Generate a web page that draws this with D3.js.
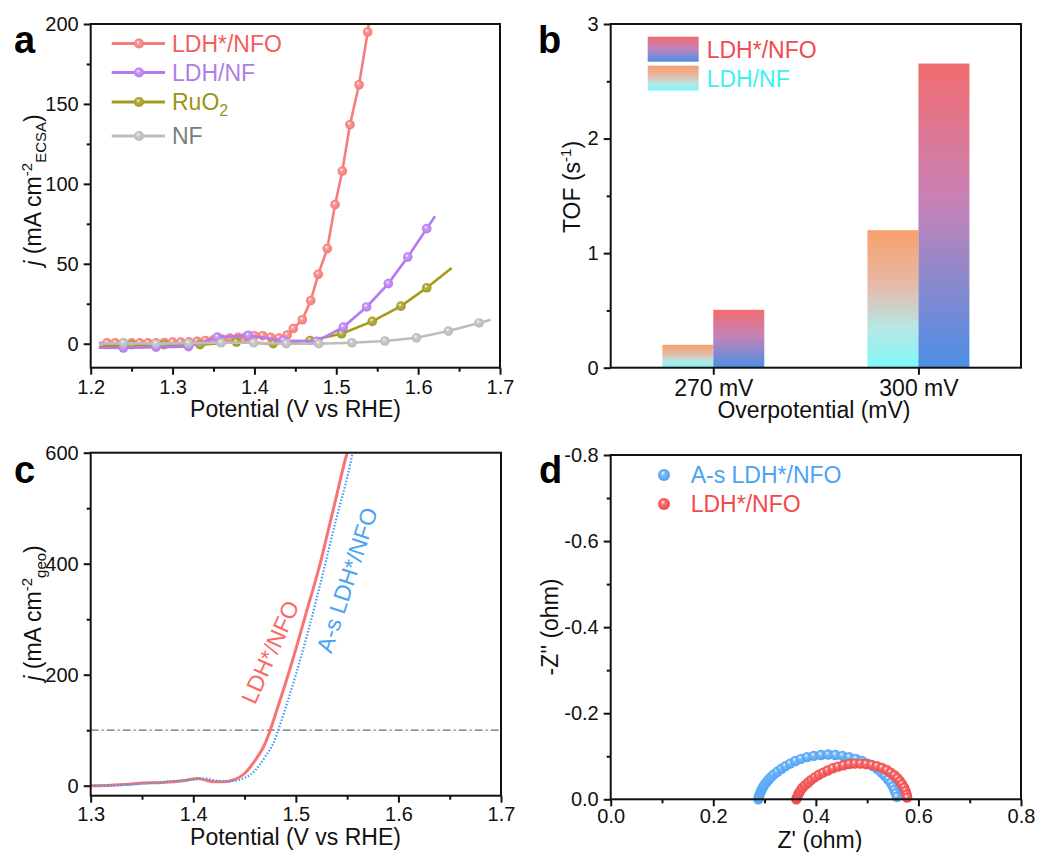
<!DOCTYPE html>
<html>
<head>
<meta charset="utf-8">
<script src="https://cdn.jsdelivr.net/npm/d3@7"></script>
<style>
  body { margin: 0; background: #fff; }
  svg { font-family: "Liberation Sans", Arial, sans-serif; }
</style>
</head>
<body>
<svg id="fig" width="1038" height="852"></svg>
<script>
// ---- panel a : LSV normalised by ECSA ----
const ldhNfoV = [1.21,1.22,1.23,1.24,1.25,1.26,1.27,1.28,1.29,1.30,1.31,1.32,1.33,1.34,1.35,1.36,1.37,1.38,1.39,1.40,1.41,1.42,1.43,1.44,1.4475,1.4585,1.4688,1.478,1.489,1.4985,1.5074,1.5167,1.5278,1.5384,1.546];
const ldhNfoJ = [0.5,0.5,0.5,0.5,0.5,0.5,0.5,0.5,0.8,1,1,1.2,1.5,2,2.5,3,3.5,4,4.5,5,5,4,3.5,5.5,9.5,15,27,43.4,59.5,87,108,137,162,195,225];
const ldhNfV = [1.21,1.2399,1.2798,1.3195,1.3547,1.3925,1.4353,1.476,1.5086,1.537,1.5636,1.5873,1.6105,1.6206];
const ldhNfJ = [-2.5,-2.7,-2.1,-1.8,4.1,5.2,2,1.5,10.4,23,37.6,54.2,72,79.7];
const ruo2V = [1.21,1.25,1.2897,1.3335,1.378,1.423,1.468,1.5065,1.544,1.579,1.6105,1.641];
const ruo2J = [-2,-0.6,-0.6,-0.6,1,0,2,6.2,14,23.5,35,47.4];
const nfV = [1.21,1.24,1.2797,1.3195,1.3592,1.399,1.4388,1.4787,1.519,1.5595,1.598,1.637,1.6744,1.6886];
const nfJ = [0,0.4,0,0.4,0.6,0.6,0,0,0.6,1.7,3.7,7.9,13,15];

// ---- panel b : TOF ----
const tofCats = ["270 mV", "300 mV"];
const tofSeries = ["LDH/NF", "LDH*/NFO"];
const tofLdhNf = [0.2, 1.2];
const tofLdhNfo = [0.505, 2.655];

// ---- panel c : LSV geometric ----
const cRedV = [1.30,1.32,1.34,1.35,1.37,1.39,1.40,1.405,1.41,1.42,1.43,1.44,1.45,1.46,1.47,1.475,1.48,1.49,1.50,1.51,1.52,1.5237,1.53,1.54,1.55,1.552];
const cRedJ = [0,1,3,5,6,9,12,13,11,7,7,11,22,45,76,100,128,185,246,311,375,400,448,525,600,612];
const cBlueV = [1.30,1.34,1.36,1.38,1.40,1.41,1.415,1.42,1.43,1.44,1.45,1.46,1.47,1.48,1.4828,1.49,1.50,1.51,1.52,1.5287,1.53,1.54,1.55,1.556];
const cBlueJ = [0,2,5,8,11,13,12,10,8,9,14,27,52,85,100,140,200,265,335,400,410,485,555,605];

// ---- panel d : Nyquist ----
const asZre = [0.288,0.289,0.290,0.292,0.294,0.297,0.300,0.304,0.308,0.313,0.318,0.325,0.333,0.341,0.350,0.360,0.371,0.383,0.396,0.410,0.424,0.438,0.452,0.465,0.478,0.490,0.501,0.511,0.520,0.528,0.535,0.541,0.546,0.550,0.553,0.556,0.558];
const asZim = [0.000,0.005,0.010,0.016,0.022,0.028,0.034,0.040,0.046,0.052,0.058,0.064,0.071,0.077,0.083,0.089,0.094,0.098,0.101,0.103,0.104,0.103,0.101,0.098,0.094,0.089,0.083,0.077,0.070,0.062,0.054,0.046,0.038,0.030,0.022,0.014,0.006];
const ldZre = [0.362,0.363,0.365,0.367,0.370,0.374,0.379,0.385,0.391,0.398,0.406,0.414,0.423,0.433,0.443,0.454,0.465,0.476,0.487,0.498,0.509,0.519,0.529,0.538,0.546,0.553,0.559,0.564,0.568,0.572,0.575,0.577,0.578];
const ldZim = [0.000,0.004,0.009,0.014,0.020,0.027,0.033,0.039,0.045,0.051,0.057,0.062,0.067,0.072,0.076,0.079,0.082,0.083,0.083,0.082,0.080,0.077,0.073,0.068,0.062,0.056,0.049,0.042,0.035,0.027,0.019,0.011,0.004];

const svg = d3.select("#fig");
const defs = svg.append("defs");

// shiny ball markers
function ball(id, col) {
  const g = defs.append("radialGradient").attr("id", id)
    .attr("cx", "50%").attr("cy", "50%").attr("r", "50%").attr("fx", "38%").attr("fy", "32%");
  g.append("stop").attr("offset", "0%").attr("stop-color", "#fff");
  g.append("stop").attr("offset", "35%").attr("stop-color", d3.interpolateRgb(col, "#fff")(0.25));
  g.append("stop").attr("offset", "100%").attr("stop-color", col);
}
ball("bRed", "#f47878");
ball("bPur", "#b37af0");
ball("bOli", "#9f981a");
ball("bGry", "#b9b9b9");
ball("bBlueD", "#4ea2f7");
ball("bRedD", "#f34646");

function vgrad(id, stops) {
  const g = defs.append("linearGradient").attr("id", id)
    .attr("x1", 0).attr("y1", 0).attr("x2", 0).attr("y2", 1);
  stops.forEach(s => g.append("stop").attr("offset", s[0]).attr("stop-color", s[1]));
}
vgrad("gNfo", [["0%", "#f26c70"], ["45%", "#c782b6"], ["100%", "#4b8fe6"]]);
vgrad("gNf", [["0%", "#f8a06c"], ["40%", "#e6baa8"], ["70%", "#b8e6e4"], ["100%", "#7ffafa"]]);

// axes helper: box + outward ticks on bottom and left
function axes(g, x, y, o) {
  const x0 = x.range()[0], x1 = x.range()[1];
  const yb = y.range()[0], yt = y.range()[1];
  g.append("g").attr("class", "xax").attr("transform", `translate(0,${yb})`)
    .call(d3.axisBottom(x).tickValues(o.xt).tickFormat(o.xf).tickSize(7).tickPadding(o.xp || 5));
  if (o.xm) g.append("g").attr("transform", `translate(0,${yb})`)
    .call(d3.axisBottom(x).tickValues(o.xm).tickFormat("").tickSize(4));
  g.append("g").attr("transform", `translate(${x0},0)`)
    .call(d3.axisLeft(y).tickValues(o.yt).tickFormat(o.yf).tickSize(7).tickPadding(5));
  if (o.ym) g.append("g").attr("transform", `translate(${x0},0)`)
    .call(d3.axisLeft(y).tickValues(o.ym).tickFormat("").tickSize(4));
  g.selectAll(".domain").remove();
  g.selectAll(".tick line").attr("stroke", "#111").attr("stroke-width", 2);
  g.selectAll(".tick text").attr("fill", "#111").style("font-size", "20px");
  g.selectAll("g").attr("font-family", null).attr("font-size", null);
  g.append("rect").attr("x", x0).attr("y", yt).attr("width", x1 - x0).attr("height", yb - yt)
    .attr("fill", "none").attr("stroke", "#111").attr("stroke-width", 2);
}

function clip(id, x, y) {
  defs.append("clipPath").attr("id", id).append("rect")
    .attr("x", x.range()[0]).attr("y", y.range()[1])
    .attr("width", x.range()[1] - x.range()[0]).attr("height", y.range()[0] - y.range()[1]);
}

function panelLetter(t, x, y) {
  svg.append("text").attr("x", x).attr("y", y).text(t)
    .style("font-size", "38px").style("font-weight", "bold").attr("fill", "#000");
}

function xTitle(t, x, y) {
  svg.append("text").attr("x", x).attr("y", y).attr("text-anchor", "middle")
    .style("font-size", "23px").attr("fill", "#111").text(t);
}

// ================= panel a =================
const xa = d3.scaleLinear().domain([1.2, 1.7]).range([90.7, 500]);
const ya = d3.scaleLinear().domain([-15, 200]).range([367.7, 24]);
clip("clipA", xa, ya);
const ga = svg.append("g");
const aSeries = [
  { name: "LDH*/NFO", v: ldhNfoV, j: ldhNfoJ, col: "#f87c7c", ball: "bRed" },
  { name: "RuO2", v: ruo2V, j: ruo2J, col: "#a39a1c", ball: "bOli" },
  { name: "LDH/NF", v: ldhNfV, j: ldhNfJ, col: "#b57af2", ball: "bPur" },
  { name: "NF", v: nfV, j: nfJ, col: "#bdbdbd", ball: "bGry" }
];
const lineA = d3.line().x(d => xa(d[0])).y(d => ya(d[1]));
const plotA = ga.append("g").attr("clip-path", "url(#clipA)");
aSeries.forEach(s => {
  const pts = s.v.map((v, i) => [v, s.j[i]]);
  plotA.append("path").datum(pts).attr("d", lineA)
    .attr("fill", "none").attr("stroke", s.col).attr("stroke-width", 2.6);
  plotA.selectAll(null).data(pts.slice(1, -1)).enter().append("circle")
    .attr("cx", d => xa(d[0])).attr("cy", d => ya(d[1])).attr("r", 4.8)
    .attr("fill", `url(#${s.ball})`);
});
axes(ga, xa, ya, {
  xt: d3.range(1.2, 1.71, 0.1), xf: d3.format(".1f"), xm: d3.range(1.25, 1.7, 0.1),
  yt: [0, 50, 100, 150, 200], yf: d3.format("d"), ym: [25, 75, 125, 175]
});
// legend a
const legA = [
  { name: "LDH*/NFO", col: "#f87c7c", ball: "bRed", txt: "#f25e5e" },
  { name: "LDH/NF", col: "#b57af2", ball: "bPur", txt: "#b07ce6" },
  { name: "RuO", sub: "2", col: "#a39a1c", ball: "bOli", txt: "#9c9414" },
  { name: "NF", col: "#bdbdbd", ball: "bGry", txt: "#7d7d7d" }
];
const legAy = [43.5, 72.5, 102, 136];
legA.forEach((l, i) => {
  const y = legAy[i];
  ga.append("line").attr("x1", 111.7).attr("x2", 165).attr("y1", y).attr("y2", y)
    .attr("stroke", l.col).attr("stroke-width", 3);
  ga.append("circle").attr("cx", 139).attr("cy", y).attr("r", 5).attr("fill", `url(#${l.ball})`);
  const t = ga.append("text").attr("x", 172).attr("y", y + 8.3).style("font-size", "23px").attr("fill", l.txt);
  t.append("tspan").text(l.name);
  if (l.sub) t.append("tspan").attr("dy", 6).style("font-size", "16px").text(l.sub);
});
panelLetter("a", 14, 53);
xTitle("Potential (V vs RHE)", 295.5, 417);
const yta = svg.append("text").attr("transform", "translate(41,190) rotate(-90)")
  .attr("text-anchor", "middle").style("font-size", "23px").attr("fill", "#111");
yta.append("tspan").style("font-style", "italic").text("j");
yta.append("tspan").text(" (mA cm");
yta.append("tspan").attr("dy", -9).style("font-size", "15px").text("-2");
yta.append("tspan").attr("dy", 14).style("font-size", "15px").text("ECSA");
yta.append("tspan").attr("dy", -5).text(")");

// ================= panel b =================
const xb = d3.scalePoint().domain(tofCats).range([610.7, 1021]).padding(0.5);
const yb = d3.scaleLinear().domain([0, 3]).range([367.7, 24]);
const xInner = d3.scaleBand().domain(tofSeries).range([-51, 51]);
const gb = svg.append("g");
const tofVals = { "LDH/NF": tofLdhNf, "LDH*/NFO": tofLdhNfo };
const tofFill = { "LDH/NF": "url(#gNf)", "LDH*/NFO": "url(#gNfo)" };
tofSeries.forEach(s => {
  gb.selectAll(null).data(tofCats).enter().append("rect")
    .attr("x", (c) => xb(c) + xInner(s))
    .attr("width", xInner.bandwidth())
    .attr("y", (c, i) => yb(tofVals[s][i]))
    .attr("height", (c, i) => yb(0) - yb(tofVals[s][i]))
    .attr("fill", tofFill[s]);
});
axes(gb, xb, yb, {
  xt: tofCats, xf: d => d,
  yt: [0, 1, 2, 3], yf: d3.format("d"), ym: [0.5, 1.5, 2.5]
});
gb.select(".xax").selectAll(".tick text").style("font-size", "23px");
gb.append("rect").attr("x", 647.7).attr("y", 36.7).attr("width", 51).attr("height", 25).attr("fill", "url(#gNfo)");
gb.append("rect").attr("x", 647.7).attr("y", 65.7).attr("width", 51).attr("height", 25).attr("fill", "url(#gNf)");
gb.append("text").attr("x", 706.7).attr("y", 57.5).style("font-size", "23px").attr("fill", "#f04a52").text("LDH*/NFO");
gb.append("text").attr("x", 706.7).attr("y", 86.5).style("font-size", "23px").attr("fill", "#3ef0f0").text("LDH/NF");
panelLetter("b", 538, 53);
xTitle("Overpotential (mV)", 814, 418);
const ytb = svg.append("text").attr("transform", "translate(580,187) rotate(-90)")
  .attr("text-anchor", "middle").style("font-size", "23px").attr("fill", "#111");
ytb.append("tspan").text("TOF (s");
ytb.append("tspan").attr("dy", -9).style("font-size", "15px").text("-1");
ytb.append("tspan").attr("dy", 9).text(")");

// ================= panel c =================
const xc = d3.scaleLinear().domain([1.3, 1.7]).range([90.7, 501]);
const yc = d3.scaleLinear().domain([-18, 600]).range([795.7, 452.7]);
clip("clipC", xc, yc);
const gc = svg.append("g");
const plotC = gc.append("g").attr("clip-path", "url(#clipC)");
plotC.append("line").attr("x1", xc(1.3)).attr("x2", xc(1.7)).attr("y1", yc(100)).attr("y2", yc(100))
  .attr("stroke", "#6e6e6e").attr("stroke-width", 1.2).attr("stroke-dasharray", "8,3,2,3");
const lineC = d3.line().x(d => xc(d[0])).y(d => yc(d[1])).curve(d3.curveMonotoneX);
plotC.append("path").datum(cRedV.map((v, i) => [v, cRedJ[i]])).attr("d", lineC)
  .attr("fill", "none").attr("stroke", "#f87474").attr("stroke-width", 3);
plotC.append("path").datum(cBlueV.map((v, i) => [v, cBlueJ[i]])).attr("d", lineC)
  .attr("fill", "none").attr("stroke", "#3f9cf5").attr("stroke-width", 2.2)
  .attr("stroke-dasharray", "1.5,1.8");
axes(gc, xc, yc, {
  xt: d3.range(1.3, 1.71, 0.1), xf: d3.format(".1f"), xm: d3.range(1.35, 1.7, 0.1), xp: 4,
  yt: [0, 200, 400, 600], yf: d3.format("d"), ym: [100, 300, 500]
});
gc.append("text").attr("transform", "translate(270,652) rotate(-66)")
  .attr("text-anchor", "middle").attr("dominant-baseline", "central")
  .style("font-size", "23px").attr("fill", "#f86a6a").text("LDH*/NFO");
gc.append("text").attr("transform", "translate(347,580) rotate(-72)")
  .attr("text-anchor", "middle").attr("dominant-baseline", "central")
  .style("font-size", "23px").attr("fill", "#4aa3f5").text("A-s LDH*/NFO");
panelLetter("c", 14, 483);
xTitle("Potential (V vs RHE)", 295.5, 845);
const ytc = svg.append("text").attr("transform", "translate(41,613) rotate(-90)")
  .attr("text-anchor", "middle").style("font-size", "23px").attr("fill", "#111");
ytc.append("tspan").style("font-style", "italic").text("j");
ytc.append("tspan").text(" (mA cm");
ytc.append("tspan").attr("dy", -9).style("font-size", "15px").text("-2");
ytc.append("tspan").attr("dy", 14).style("font-size", "15px").text("geo");
ytc.append("tspan").attr("dy", -5).text(")");

// ================= panel d =================
const xd = d3.scaleLinear().domain([0, 0.8]).range([610.7, 1021]);
const yd = d3.scaleLinear().domain([0, -0.8]).range([799.3, 455]);
const gd = svg.append("g");
const nyq = [
  { re: asZre, im: asZim, ball: "bBlueD" },
  { re: ldZre, im: ldZim, ball: "bRedD" }
];
nyq.forEach(s => {
  gd.selectAll(null).data(s.re.map((r, i) => [r, -s.im[i]])).enter().append("circle")
    .attr("cx", d => xd(d[0])).attr("cy", d => yd(d[1])).attr("r", 5.2)
    .attr("fill", `url(#${s.ball})`);
});
axes(gd, xd, yd, {
  xt: [0, 0.2, 0.4, 0.6, 0.8], xf: d => d.toFixed(1), xm: [0.1, 0.3, 0.5, 0.7], xp: 3,
  yt: [0, -0.2, -0.4, -0.6, -0.8], yf: d => d.toFixed(1), ym: [-0.1, -0.3, -0.5, -0.7]
});
gd.append("circle").attr("cx", 664).attr("cy", 475).attr("r", 6).attr("fill", "url(#bBlueD)");
gd.append("circle").attr("cx", 664).attr("cy", 504).attr("r", 6).attr("fill", "url(#bRedD)");
gd.append("text").attr("x", 690.7).attr("y", 483).style("font-size", "23px").attr("fill", "#4aa3f5").text("A-s LDH*/NFO");
gd.append("text").attr("x", 690.7).attr("y", 512).style("font-size", "23px").attr("fill", "#f24a4a").text("LDH*/NFO");
panelLetter("d", 539, 483);
xTitle("Z' (ohm)", 820, 848);
svg.append("text").attr("transform", "translate(558,627) rotate(-90)")
  .attr("text-anchor", "middle").style("font-size", "23px").attr("fill", "#111").text("-Z'' (ohm)");
</script>
</body>
</html>
